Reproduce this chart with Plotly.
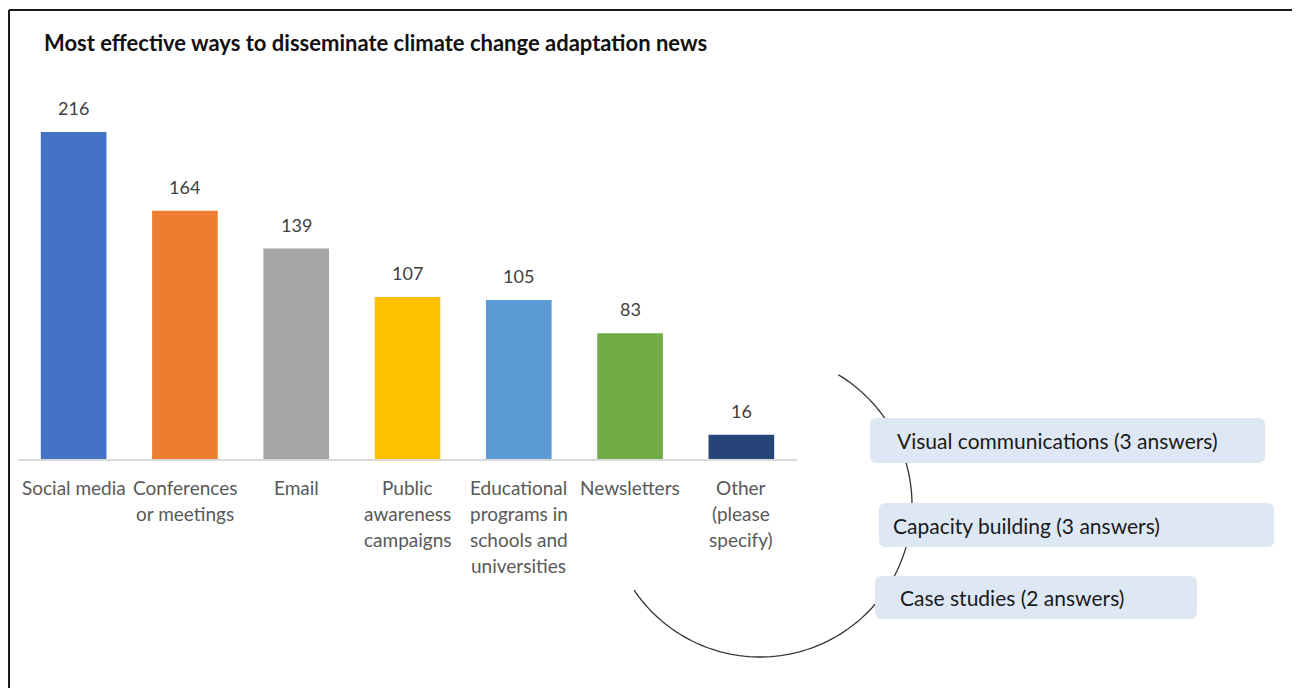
import numpy as np
import plotly.graph_objects as go

# Survey data
categories = ["Social media", "Conferences or meetings", "Email", "Public awareness campaigns",
              "Educational programs in schools and universities", "Newsletters", "Other (please specify)"]
label_lines = [["Social media"], ["Conferences", "or meetings"], ["Email"],
               ["Public", "awareness", "campaigns"],
               ["Educational", "programs in", "schools and", "universities"],
               ["Newsletters"], ["Other", "(please", "specify)"]]
counts = [216, 164, 139, 107, 105, 83, 16]
colors = ["#4472C4", "#ED7D31", "#A5A5A5", "#FFC000", "#5B9BD5", "#70AD47", "#264478"]

other_answers = ["Visual communications (3 answers)", "Capacity building (3 answers)",
                 "Case studies (2 answers)"]

title = "Most effective ways to disseminate climate change adaptation news"

FONT = "Lato"
OFF = 8                      # page body margin
W_FIG, H_FIG = 1300 - OFF, 688 - OFF
L, R, T, B = 18, 797, 100, 459   # plot area in screen pixels


def px(x):
    return (x - L) / (R - L)


def py(y):
    return (B - y) / (B - T)


fig = go.Figure(go.Bar(
    x=categories, y=counts, marker_color=colors, width=0.59,
    marker_line_width=0, hoverinfo="x+y"
))

# value labels
for c, v in zip(categories, counts):
    fig.add_annotation(x=c, y=v, text=str(v), showarrow=False, yanchor="bottom",
                       yshift=11, font=dict(family=FONT, size=18, color="#404040"))

# category labels, one line each
for c, lines in zip(categories, label_lines):
    for i, ln in enumerate(lines):
        fig.add_annotation(x=c, xref="x", y=py(487 + 26 * i), yref="paper", text=ln,
                           showarrow=False, yanchor="middle",
                           font=dict(family=FONT, size=19, color="#595959"))

# title
fig.add_annotation(x=px(42), y=py(42), xref="paper", yref="paper", text="<b>" + title + "</b>",
                   showarrow=False, xanchor="left", yanchor="middle",
                   font=dict(family=FONT, size=22, color="#111111"))

shapes = []
# frame lines (top and left)
shapes.append(dict(type="line", xref="paper", yref="paper", x0=px(9), x1=px(1300),
                   y0=py(10), y1=py(10), line=dict(color="#1a1a1a", width=2)))
shapes.append(dict(type="line", xref="paper", yref="paper", x0=px(9), x1=px(9),
                   y0=py(10), y1=py(688), line=dict(color="#1a1a1a", width=2)))

# arc
cx, cy, r = 760, 505, 152
ang = np.radians(np.linspace(-59, 146, 120))
ax_ = cx + r * np.cos(ang)
ay_ = cy + r * np.sin(ang)
path = "M " + " L ".join(f"{px(a):.5f},{py(b):.5f}" for a, b in zip(ax_, ay_))
shapes.append(dict(type="path", xref="paper", yref="paper", path=path,
                   line=dict(color="#333333", width=1.3)))


def rounded(x0, y0, x1, y1, rr=7):
    p = [
        f"M {px(x0 + rr)},{py(y0)}",
        f"L {px(x1 - rr)},{py(y0)}",
        f"Q {px(x1)},{py(y0)} {px(x1)},{py(y0 + rr)}",
        f"L {px(x1)},{py(y1 - rr)}",
        f"Q {px(x1)},{py(y1)} {px(x1 - rr)},{py(y1)}",
        f"L {px(x0 + rr)},{py(y1)}",
        f"Q {px(x0)},{py(y1)} {px(x0)},{py(y1 - rr)}",
        f"L {px(x0)},{py(y0 + rr)}",
        f"Q {px(x0)},{py(y0)} {px(x0 + rr)},{py(y0)}",
        "Z",
    ]
    return " ".join(p)


boxes = [(870, 418, 1265, 463, 895), (879, 503, 1274, 547, 891), (875, 576, 1197, 619, 898)]
for (x0, y0, x1, y1, tx), txt in zip(boxes, other_answers):
    shapes.append(dict(type="path", xref="paper", yref="paper", path=rounded(x0, y0, x1, y1),
                       fillcolor="#DEE8F4", line=dict(width=0)))
    fig.add_annotation(x=px(tx), y=py((y0 + y1) / 2), xref="paper", yref="paper", text=txt,
                       showarrow=False, xanchor="left", yanchor="middle",
                       font=dict(family=FONT, size=21, color="#1a1a1a"))

fig.update_layout(
    width=W_FIG, height=H_FIG,
    margin=dict(l=L - OFF, r=W_FIG - (R - OFF), t=T - OFF, b=H_FIG - (B - OFF), pad=0),
    paper_bgcolor="white", plot_bgcolor="white",
    showlegend=False, shapes=shapes,
    xaxis=dict(showticklabels=False, showline=True, linecolor="#D9D9D9", linewidth=1.5,
               showgrid=False, zeroline=False, fixedrange=True),
    yaxis=dict(range=[0, (B - T) / 1.514], visible=False, showgrid=False, fixedrange=True),
    bargap=0.41,
)

fig.write_html("out.html")
